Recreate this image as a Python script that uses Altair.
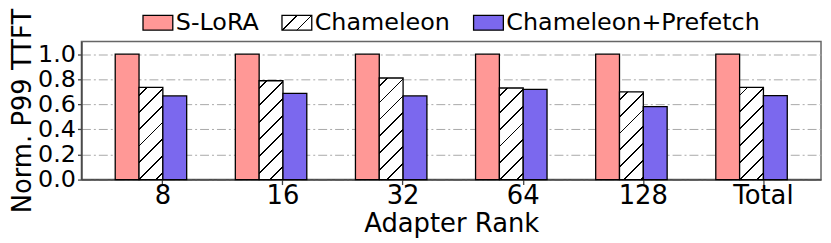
import json
import altair as alt
import pandas as pd

# ---------------- data ----------------
ranks = ["8", "16", "32", "64", "128", "Total"]
methods = ["S-LoRA", "Chameleon", "Chameleon+Prefetch"]
slora = [1.0, 1.0, 1.0, 1.0, 1.0, 1.0]
chameleon = [0.735, 0.788, 0.81, 0.73, 0.70, 0.735]
prefetch = [0.667, 0.687, 0.667, 0.719, 0.582, 0.669]
colors = ["#ff9896", "#ffffff", "#7b68ee"]
y_ticks = [0.0, 0.2, 0.4, 0.6, 0.8, 1.0]

rows = []
for i, r in enumerate(ranks):
    for m, vals in zip(methods, [slora, chameleon, prefetch]):
        rows.append({"rank": r, "method": m, "value": vals[i]})
df = pd.DataFrame(rows)

# ---------------- layout / style ----------------
PLOT_W, PLOT_H = 745, 139
Y_MAX = 1.1
BAR_W = 24
FONT = "DejaVu Sans"


def hatch(w, h, spacing, lw, phase=0.0, line="#000000", bg="#ffffff"):
    """Linear gradient that imitates '/' hatching on a w x h box."""
    r = h / w
    a = (1 + r) / (1 + r * r)
    b = a * r
    total = w + h
    hw = lw * 2 ** 0.5 / 2 / total
    stops = [{"offset": 0, "color": bg}]
    pos = phase
    while pos < total:
        if pos > 0:
            t = pos / total
            lo = round(max(0.0, t - hw), 4)
            hi = round(min(1.0, t + hw), 4)
            stops += [
                {"offset": lo, "color": bg},
                {"offset": lo, "color": line},
                {"offset": hi, "color": line},
                {"offset": hi, "color": bg},
            ]
        pos += spacing
    stops.append({"offset": 1, "color": bg})
    return {"gradient": "linear", "x1": 0, "y1": 0,
            "x2": round(a, 4), "y2": round(b, 4), "stops": stops}


legend_hatch = hatch(30, 15, 15, 1.3)
fill_range = [colors[0], {"expr": json.dumps(legend_hatch)}, colors[2]]

conditions = []
for r, v in zip(ranks, chameleon):
    conditions.append({
        "test": f"datum.method === 'Chameleon' && datum.rank === '{r}'",
        "value": hatch(BAR_W, v / Y_MAX * PLOT_H, 17, 1.3, phase=8),
    })

chart = alt.Chart(df).mark_bar(stroke="black", strokeWidth=1.3).encode(
    x=alt.X(
        "rank:N", sort=ranks,
        scale=alt.Scale(paddingInner=0.405, paddingOuter=0.281),
        axis=alt.Axis(
            title="Adapter Rank", labelAngle=0, tickOffset=11.5,
            labelFontSize=26, titleFontSize=26, tickSize=5,
            labelPadding=19, labelBaseline="alphabetic",
            titleY=52, titleBaseline="alphabetic",
            grid=False, domainColor="#444", domainWidth=1.5,
            tickColor="#444", tickWidth=1.3, labelColor="black",
            titleColor="black", titleFontWeight="normal",
        ),
    ),
    xOffset=alt.XOffset(
        "method:N", sort=methods,
        scale=alt.Scale(domain=methods, paddingInner=0, paddingOuter=0),
    ),
    y=alt.Y(
        "value:Q",
        scale=alt.Scale(domain=[0, Y_MAX], nice=False, zero=True),
        axis=alt.Axis(
            title="Norm. P99 TTFT", values=y_ticks, format=".1f",
            labelFontSize=24, titleFontSize=26, tickSize=4, labelPadding=2,
            labelOverlap=False,
            titleX=-51, titleY=PLOT_H / 2, titleBaseline="alphabetic",
            titleAngle=270,
            grid=True, gridDash=[9, 3, 2, 3], gridColor="#a8a8a8", gridWidth=1,
            domainColor="#444", domainWidth=1.5, tickColor="#444",
            tickWidth=1.3, labelColor="black", titleColor="black",
            titleFontWeight="normal",
        ),
    ),
    fill=alt.Fill(
        "method:N", sort=methods,
        scale=alt.Scale(domain=methods, range=fill_range),
        legend=alt.Legend(
            orient="none", legendX=61, legendY=-35, direction="horizontal",
            title=None, labelFontSize=24, labelFont=FONT, labelColor="black",
            symbolType="M-1,-0.5H1V0.5H-1Z", symbolSize=900,
            symbolStrokeColor="black", symbolStrokeWidth=1.3,
            columnPadding=20, labelOffset=2, padding=0, labelLimit=400,
            symbolOpacity=1,
        ),
        condition=conditions,
    ),
).properties(
    width=PLOT_W, height=PLOT_H,
    autosize=alt.AutoSizeParams(type="none"),
    padding={"left": 74, "top": 33, "right": 2, "bottom": 59},
).configure(
    font=FONT,
).configure_view(
    stroke="#666", strokeWidth=1.5,
)

chart.save("out.html", embed_options={"renderer": "svg", "actions": False})
